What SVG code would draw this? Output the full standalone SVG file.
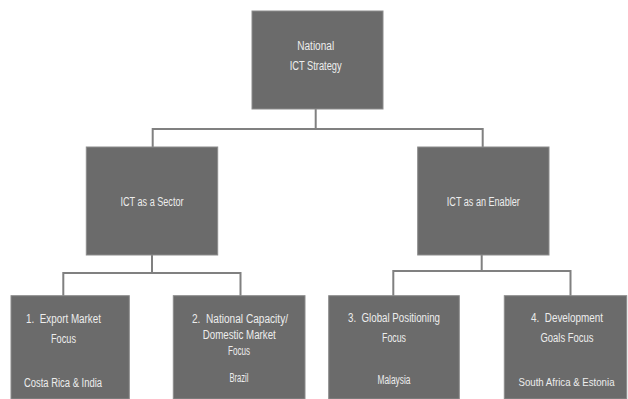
<svg xmlns="http://www.w3.org/2000/svg" width="628" height="399" viewBox="0 0 628 399">
<style>
.box{fill:#6b6b6b;stroke:#8c8c8c;stroke-width:1}
.t{font-family:"Liberation Sans",Arial,sans-serif;font-size:12px;fill:#ededed;text-anchor:middle}
.s{font-size:10.5px}
.c{fill:none;stroke:#808080;stroke-width:2}
</style>
<rect width="628" height="399" fill="#ffffff"/>
<g id="connectors">
<path class="c" d="M315.7,109 V129 M152.7,129 H482.7 M152.7,128 V147 M482.7,128 V147"/>
<path class="c" d="M152,255 V273 M63.3,273 H240.5 M63.3,272 V296 M240.5,272 V296"/>
<path class="c" d="M481.7,255 V271 M393.3,271 H570.5 M393.3,270 V296 M570.5,270 V296"/>
</g>
<g id="national">
<rect class="box" x="252" y="11" width="131" height="98"/>
<text class="t" x="315.7" y="50" textLength="37" lengthAdjust="spacingAndGlyphs">National</text>
<text class="t" x="315.7" y="69.5" textLength="52" lengthAdjust="spacingAndGlyphs">ICT Strategy</text>
</g>
<g id="sector">
<rect class="box" x="86.3" y="147" width="131.4" height="108"/>
<text class="t" x="152" y="206" textLength="63" lengthAdjust="spacingAndGlyphs">ICT as a Sector</text>
</g>
<g id="enabler">
<rect class="box" x="417.7" y="147" width="131.3" height="108"/>
<text class="t" x="483.3" y="206" textLength="73" lengthAdjust="spacingAndGlyphs">ICT as an Enabler</text>
</g>
<g id="export">
<rect class="box" x="11" y="295.7" width="118.3" height="103.3"/>
<text class="t" x="63.5" y="323" textLength="75" lengthAdjust="spacingAndGlyphs" xml:space="preserve">1.  Export Market</text>
<text class="t" x="63.5" y="343" textLength="25" lengthAdjust="spacingAndGlyphs">Focus</text>
<text class="t" x="63" y="387" textLength="78" lengthAdjust="spacingAndGlyphs">Costa Rica &amp; India</text>
</g>
<g id="domestic">
<rect class="box" x="173.3" y="295.7" width="131.7" height="103.3"/>
<text class="t" x="240" y="323" textLength="96" lengthAdjust="spacingAndGlyphs" xml:space="preserve">2.  National Capacity/</text>
<text class="t" x="239.3" y="339" textLength="73" lengthAdjust="spacingAndGlyphs">Domestic Market</text>
<text class="t" x="239" y="355" textLength="22" lengthAdjust="spacingAndGlyphs">Focus</text>
<text class="t" x="239" y="382" textLength="19" lengthAdjust="spacingAndGlyphs">Brazil</text>
</g>
<g id="global">
<rect class="box" x="328.7" y="295.7" width="130.6" height="103.3"/>
<text class="t" x="394" y="322" textLength="92" lengthAdjust="spacingAndGlyphs" xml:space="preserve">3.  Global Positioning</text>
<text class="t" x="394" y="342" textLength="24" lengthAdjust="spacingAndGlyphs">Focus</text>
<text class="t" x="394" y="384" textLength="33" lengthAdjust="spacingAndGlyphs">Malaysia</text>
</g>
<g id="development">
<rect class="box" x="504.3" y="295.7" width="122.4" height="103.3"/>
<text class="t" x="567" y="322" textLength="72" lengthAdjust="spacingAndGlyphs" xml:space="preserve">4.  Development</text>
<text class="t" x="567" y="342" textLength="53" lengthAdjust="spacingAndGlyphs">Goals Focus</text>
<text class="t s" x="566.5" y="386" textLength="96" lengthAdjust="spacingAndGlyphs">South Africa &amp; Estonia</text>
</g>
</svg>
